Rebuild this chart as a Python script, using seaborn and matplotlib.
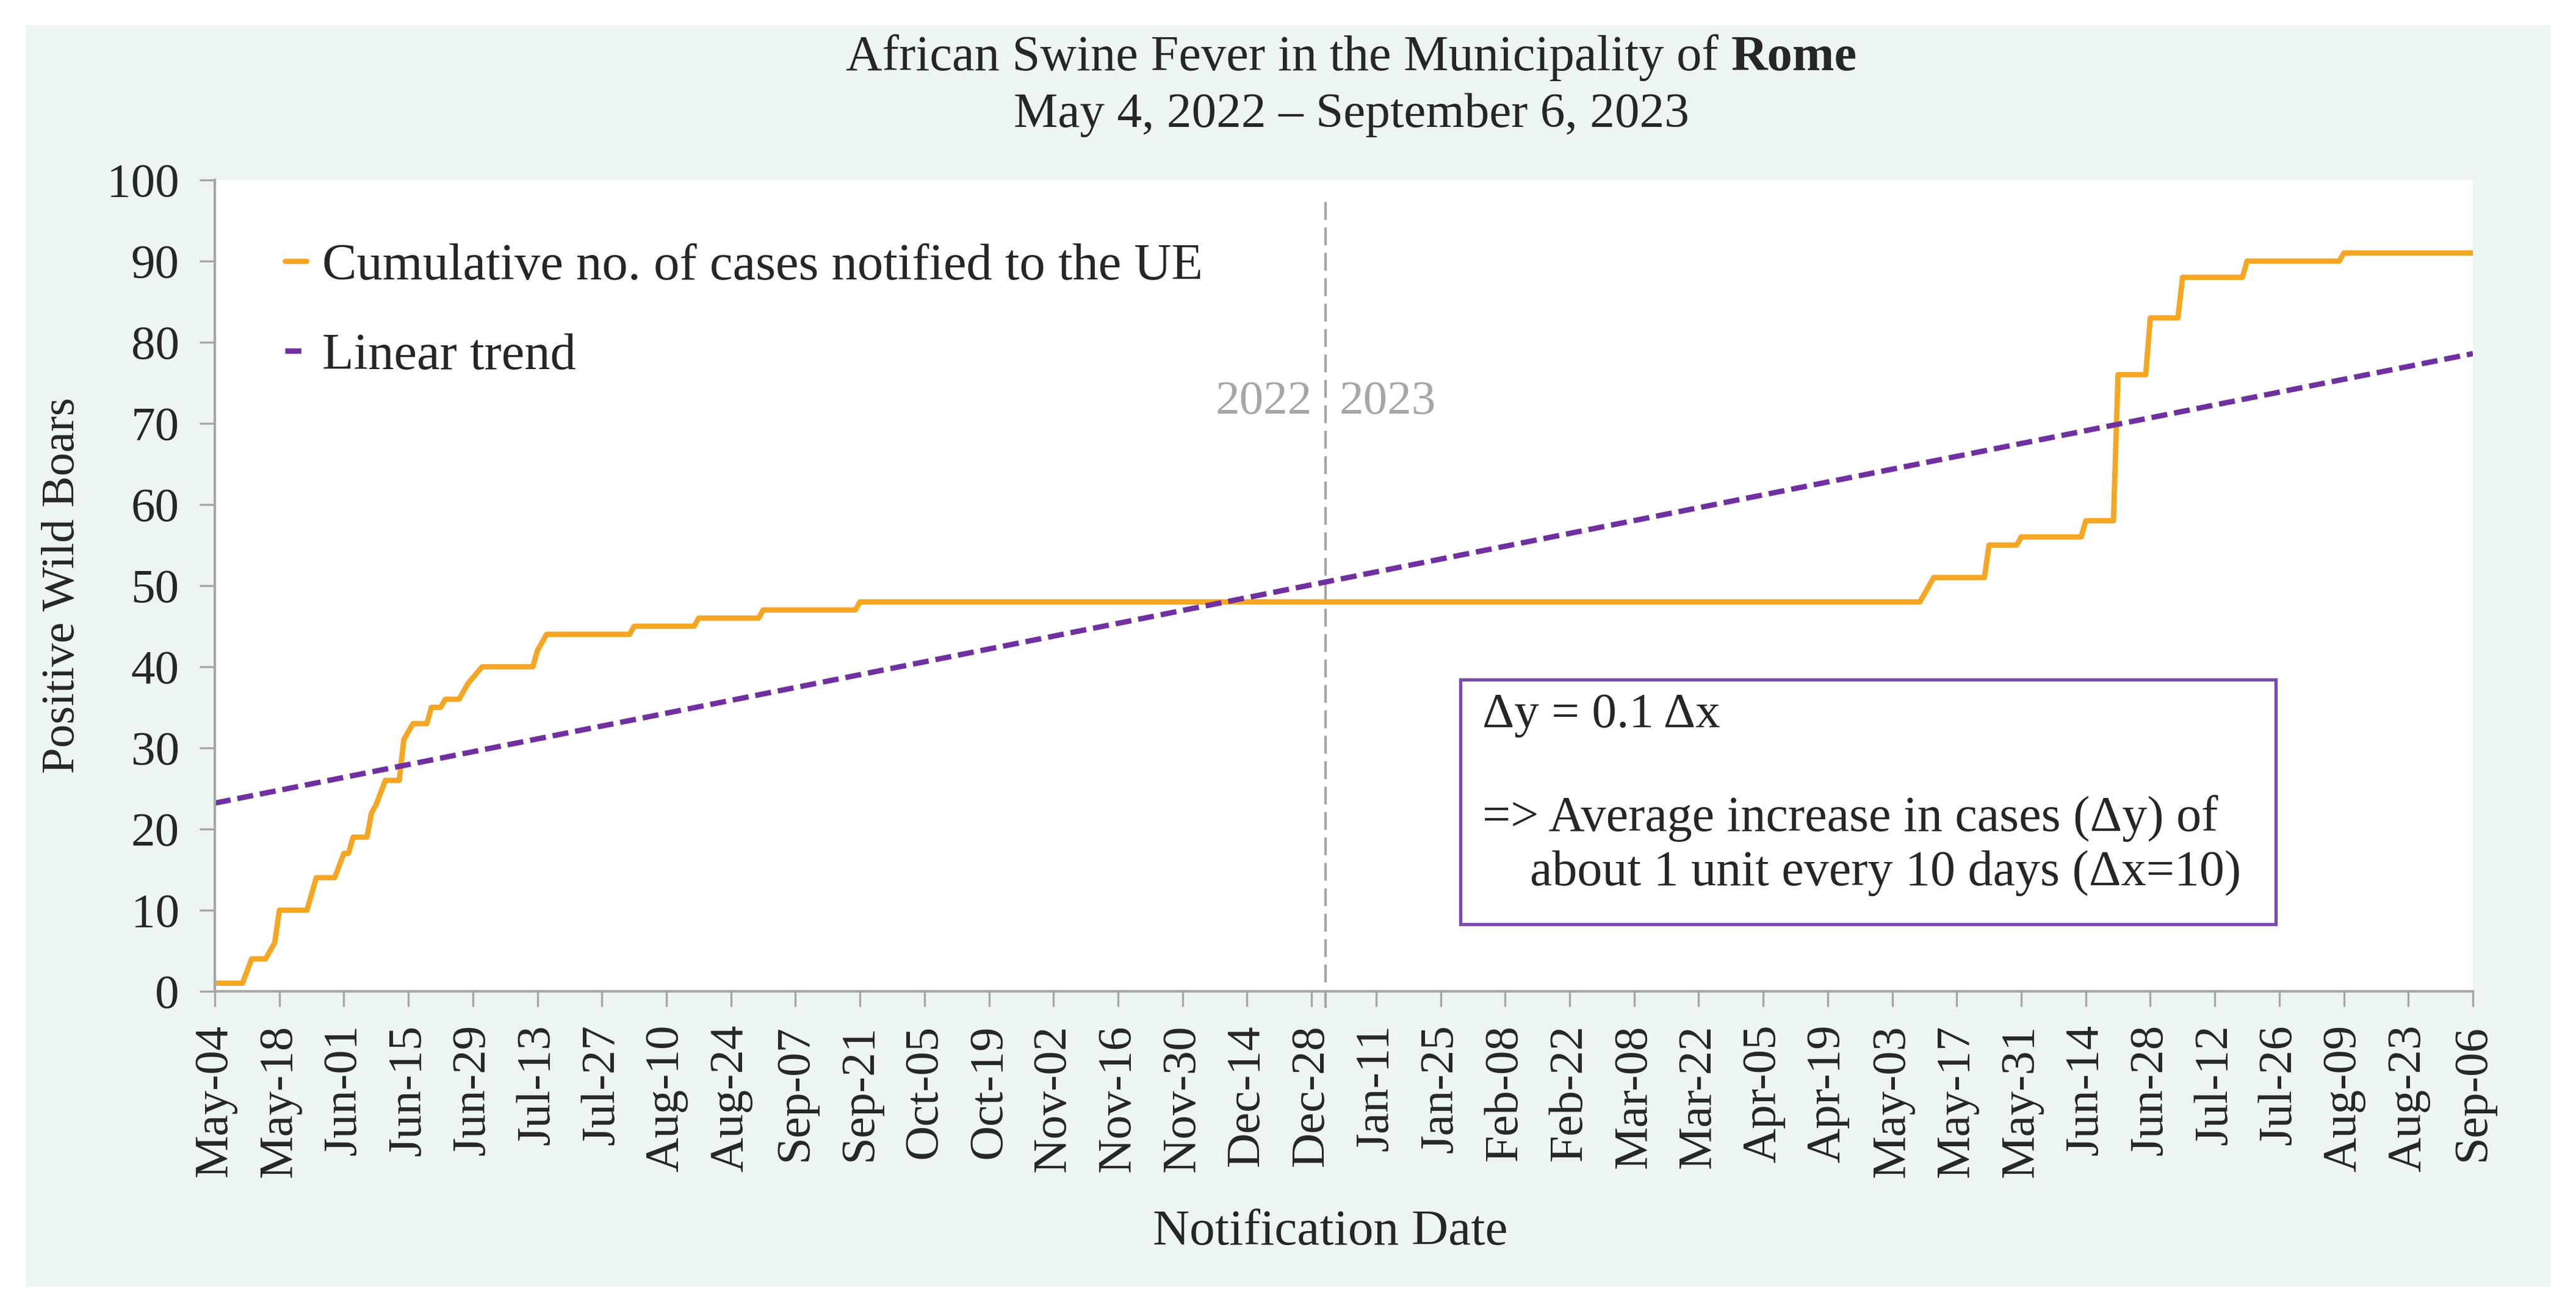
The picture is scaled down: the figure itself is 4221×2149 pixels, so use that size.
import numpy as np
import pandas as pd
import matplotlib
matplotlib.use("Agg")
import matplotlib.pyplot as plt
import matplotlib.dates as mdates
from matplotlib.patches import Rectangle
import seaborn as sns

# cumulative no. of positive wild boars (points where the curve changes)
case_dates = [
    "2022-05-04", "2022-05-10", "2022-05-12", "2022-05-15", "2022-05-17",
    "2022-05-18", "2022-05-24", "2022-05-25", "2022-05-26", "2022-05-30",
    "2022-06-01", "2022-06-02", "2022-06-03", "2022-06-06", "2022-06-07",
    "2022-06-08", "2022-06-10", "2022-06-13", "2022-06-14", "2022-06-15",
    "2022-06-16", "2022-06-19", "2022-06-20", "2022-06-22", "2022-06-23",
    "2022-06-26", "2022-06-28", "2022-07-01", "2022-07-12", "2022-07-13",
    "2022-07-15", "2022-08-02", "2022-08-03", "2022-08-16", "2022-08-17",
    "2022-08-30", "2022-08-31", "2022-09-20", "2022-09-21", "2023-05-09",
    "2023-05-12", "2023-05-23", "2023-05-24", "2023-05-30", "2023-05-31",
    "2023-06-13", "2023-06-14", "2023-06-20", "2023-06-21", "2023-06-27",
    "2023-06-28", "2023-07-04", "2023-07-05", "2023-07-18", "2023-07-19",
    "2023-08-08", "2023-08-09", "2023-09-06",
]
case_values = [
    1, 1, 4, 4, 6,
    10, 10, 12, 14, 14,
    17, 17, 19, 19, 22,
    23, 26, 26, 31, 32,
    33, 33, 35, 35, 36,
    36, 38, 40, 40, 42,
    44, 44, 45, 45, 46,
    46, 47, 47, 48, 48,
    51, 51, 55, 55, 56,
    56, 58, 58, 76, 76,
    83, 83, 88, 88, 90,
    90, 91, 91,
]

# linear trend end points
trend_dates = ["2022-05-04", "2023-09-06"]
trend_values = [23.2, 78.6]

year_split = "2022-12-31"
year_labels = ["2022", "2023"]
date_start = "2022-05-04"
date_end = "2023-09-06"
y_ticks = list(range(0, 101, 10))

ORANGE = "#F5A623"
PURPLE = "#7030A0"
BOX_PURPLE = "#7A4BB0"
GREY = "#A6A6A6"
PANEL = "#EDF4F4"

cases = pd.DataFrame({"date": pd.to_datetime(case_dates), "value": case_values})
trend = pd.DataFrame({"date": pd.to_datetime(trend_dates), "value": trend_values})

sns.set_theme(style="white")
plt.rcParams["font.family"] = ["Liberation Serif", "DejaVu Serif"]

W, H = 4221, 2149
fig = plt.figure(figsize=(W / 300, H / 300), dpi=300)
fig.patches.append(Rectangle((43 / W, 40 / H), (4180 - 43) / W, (2109 - 41) / H,
                             transform=fig.transFigure, facecolor=PANEL,
                             edgecolor="none", zorder=-10))

ax = fig.add_axes([352 / W, (H - 1625) / H, 3700 / W, 1330 / H])
ax.set_facecolor("white")

sns.lineplot(data=cases, x="date", y="value", ax=ax, color=ORANGE, lw=2.1,
             estimator=None, label="Cumulative no. of cases notified to the UE")
sns.lineplot(data=trend, x="date", y="value", ax=ax, color=PURPLE, lw=2.1,
             estimator=None, label="Linear trend")
ax.lines[1].set_dashes([3.0, 1.3])

# year separator
split = pd.Timestamp(year_split)
ax.axvline(split, ymin=-0.02, ymax=0.975, color=GREY, lw=1.0,
           dashes=(7, 3), clip_on=False, zorder=1)
ax.annotate(year_labels[0], xy=(split, 72.6), xytext=(-5.3, 0), textcoords="offset points",
            ha="right", va="center", color=GREY, fontsize=19)
ax.annotate(year_labels[1], xy=(split, 72.6), xytext=(5.5, 0), textcoords="offset points",
            ha="left", va="center", color=GREY, fontsize=19)

ax.set_xlim(pd.Timestamp(date_start), pd.Timestamp(date_end))
ax.set_ylim(0, 100)
ax.set_yticks(y_ticks)
ax.set_xticks(pd.date_range(date_start, date_end, freq="14D"))
ax.xaxis.set_major_formatter(mdates.DateFormatter("%b-%d"))
ax.tick_params(axis="both", direction="out", length=6, width=0.8, color=GREY,
               labelsize=19, bottom=True, left=True)
ax.tick_params(axis="x", rotation=90, pad=7)
ax.tick_params(axis="y", pad=8)
ax.set_xlabel("")
ax.set_ylabel("")
for side in ["top", "right"]:
    ax.spines[side].set_visible(False)
for side in ["left", "bottom"]:
    ax.spines[side].set_color(GREY)
    ax.spines[side].set_linewidth(1.0)

leg = ax.legend(loc="upper left", bbox_to_anchor=(0.031, 0.922), frameon=False,
                fontsize=20.3, handlelength=0.42, handletextpad=0.3,
                labelspacing=0.82, borderpad=0, borderaxespad=0)

# annotation box
ax.add_patch(Rectangle((0.5516, 0.0827), 0.9127 - 0.5516, 0.3842 - 0.0827,
                       transform=ax.transAxes, facecolor="none",
                       edgecolor=BOX_PURPLE, lw=1.3, zorder=5))
ax.text(0.5614, 0.3256, "\u0394y = 0.1 \u0394x", transform=ax.transAxes,
        fontsize=19.5, va="baseline", ha="left")
ax.text(0.5614, 0.1977, "=> Average increase in cases (\u0394y) of", transform=ax.transAxes,
        fontsize=19.7, va="baseline", ha="left")
ax.text(0.5824, 0.1308, "about 1 unit every 10 days (\u0394x=10)", transform=ax.transAxes,
        fontsize=19.7, va="baseline", ha="left")

# axis titles
fig.text(103 / W, (H - 960) / H, "Positive Wild Boars", rotation=90,
         ha="center", va="center", fontsize=18.5)
fig.text(2180 / W, (H - 2040) / H, "Notification Date", ha="center",
         va="baseline", fontsize=20)

# title, with the city in bold
cx = 2214 / W
renderer = fig.canvas.get_renderer()
t1 = fig.text(0, (H - 115) / H, "African Swine Fever in the Municipality of",
              ha="left", va="baseline", fontsize=19.8)
t2 = fig.text(0, (H - 115) / H, "Rome", ha="left", va="baseline",
              fontsize=19.8, weight="bold")
w1 = t1.get_window_extent(renderer).width / W
w2 = t2.get_window_extent(renderer).width / W
gap = 0.25 * 19.8 * 300 / 72 / W
x0 = cx - (w1 + gap + w2) / 2
t1.set_x(x0)
t2.set_x(x0 + w1 + gap)
fig.text(cx, (H - 208) / H, "May 4, 2022 \u2013 September 6, 2023", ha="center",
         va="baseline", fontsize=19.5)

fig.savefig("out.png", dpi=300)
